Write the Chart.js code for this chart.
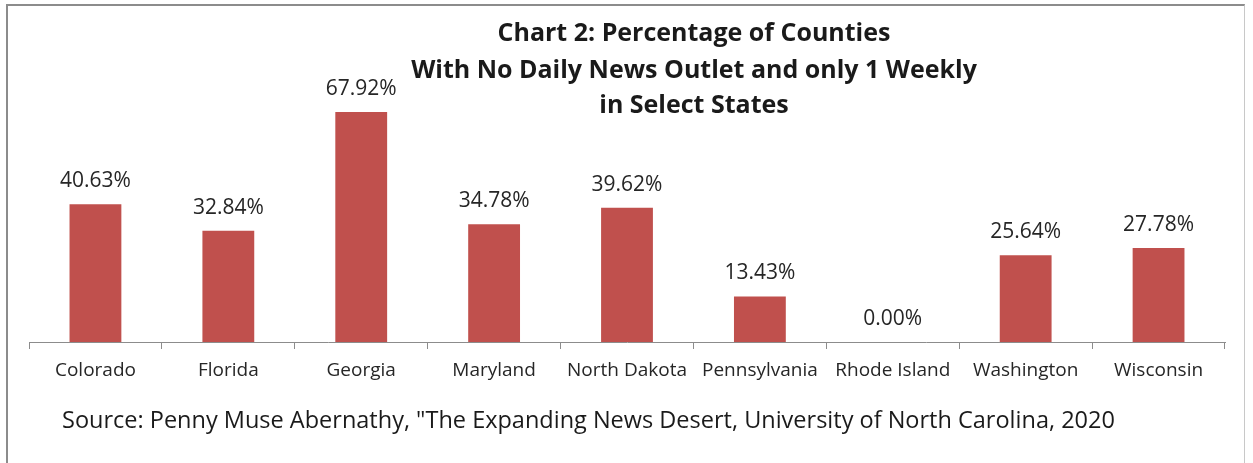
<!DOCTYPE html>
<html>
<head>
<meta charset="utf-8">
<script src="https://cdn.jsdelivr.net/npm/chart.js@4"></script>
<style>
  html, body { margin: 0; padding: 0; background: #fff; }
  #wrap { position: relative; width: 1253px; height: 463px; overflow: hidden; }
  #frame { position: absolute; left: 6px; top: 4px; width: 1239px; height: 480px; border: 2px solid #8c8c8c; border-right: 1px solid #c8c8c8; box-sizing: border-box; }
  canvas { position: absolute; left: 0; top: 0; }
</style>
</head>
<body>
<div id="wrap">
  <div id="frame"></div>
  <canvas id="c" width="1253" height="463"></canvas>
</div>
<script>
const states = ["Colorado", "Florida", "Georgia", "Maryland", "North Dakota", "Pennsylvania", "Rhode Island", "Washington", "Wisconsin"];
const percentages = [40.63, 32.84, 67.92, 34.78, 39.62, 13.43, 0.00, 25.64, 27.78];
const titleLines = ["Chart 2: Percentage of Counties", "With No Daily News Outlet and only 1 Weekly", "in Select States"];
const sourceText = "Source: Penny Muse Abernathy, \"The Expanding News Desert, University of North Carolina, 2020";

const textPlugin = {
  id: 'texts',
  afterDraw(chart) {
    const ctx = chart.ctx;
    ctx.save();
    ctx.fillStyle = '#1a1a1a';
    ctx.textAlign = 'center';
    ctx.textBaseline = 'middle';
    // title
    ctx.font = 'bold 25px "Open Sans"';
    const ty = [34, 71, 106];
    titleLines.forEach((t, i) => ctx.fillText(t, 694, ty[i]));
    // data labels
    ctx.font = '21px "Open Sans"';
    ctx.fillStyle = '#262626';
    const meta = chart.getDatasetMeta(0);
    meta.data.forEach((bar, i) => {
      ctx.fillText(percentages[i].toFixed(2) + '%', bar.x, bar.y - 23);
    });
    // source
    ctx.font = '23.5px "Open Sans"';
    ctx.fillStyle = '#1a1a1a';
    ctx.textAlign = 'left';
    ctx.fillText(sourceText, 62, 421);
    ctx.restore();
  }
};

new Chart(document.getElementById('c'), {
  type: 'bar',
  data: {
    labels: states,
    datasets: [{
      data: percentages,
      backgroundColor: '#C0504D',
      borderWidth: 0,
      categoryPercentage: 1.0,
      barPercentage: 0.39
    }]
  },
  options: {
    responsive: false,
    animation: false,
    devicePixelRatio: 1,
    layout: { padding: { left: 29, right: 28, top: 71, bottom: 61 } },
    plugins: { legend: { display: false }, tooltip: { enabled: false }, title: { display: false } },
    scales: {
      y: { display: false, min: 0, max: 80 },
      x: {
        afterFit(s) { s.height = 60; },
        border: { display: true, color: '#8c8c8c', width: 1 },
        grid: { offset: true, drawOnChartArea: false, drawTicks: true, tickLength: 7, color: '#8c8c8c' },
        ticks: { color: '#262626', padding: 10, font: { family: '"Open Sans"', size: 19 } }
      }
    }
  },
  plugins: [textPlugin]
});
</script>
</body>
</html>
